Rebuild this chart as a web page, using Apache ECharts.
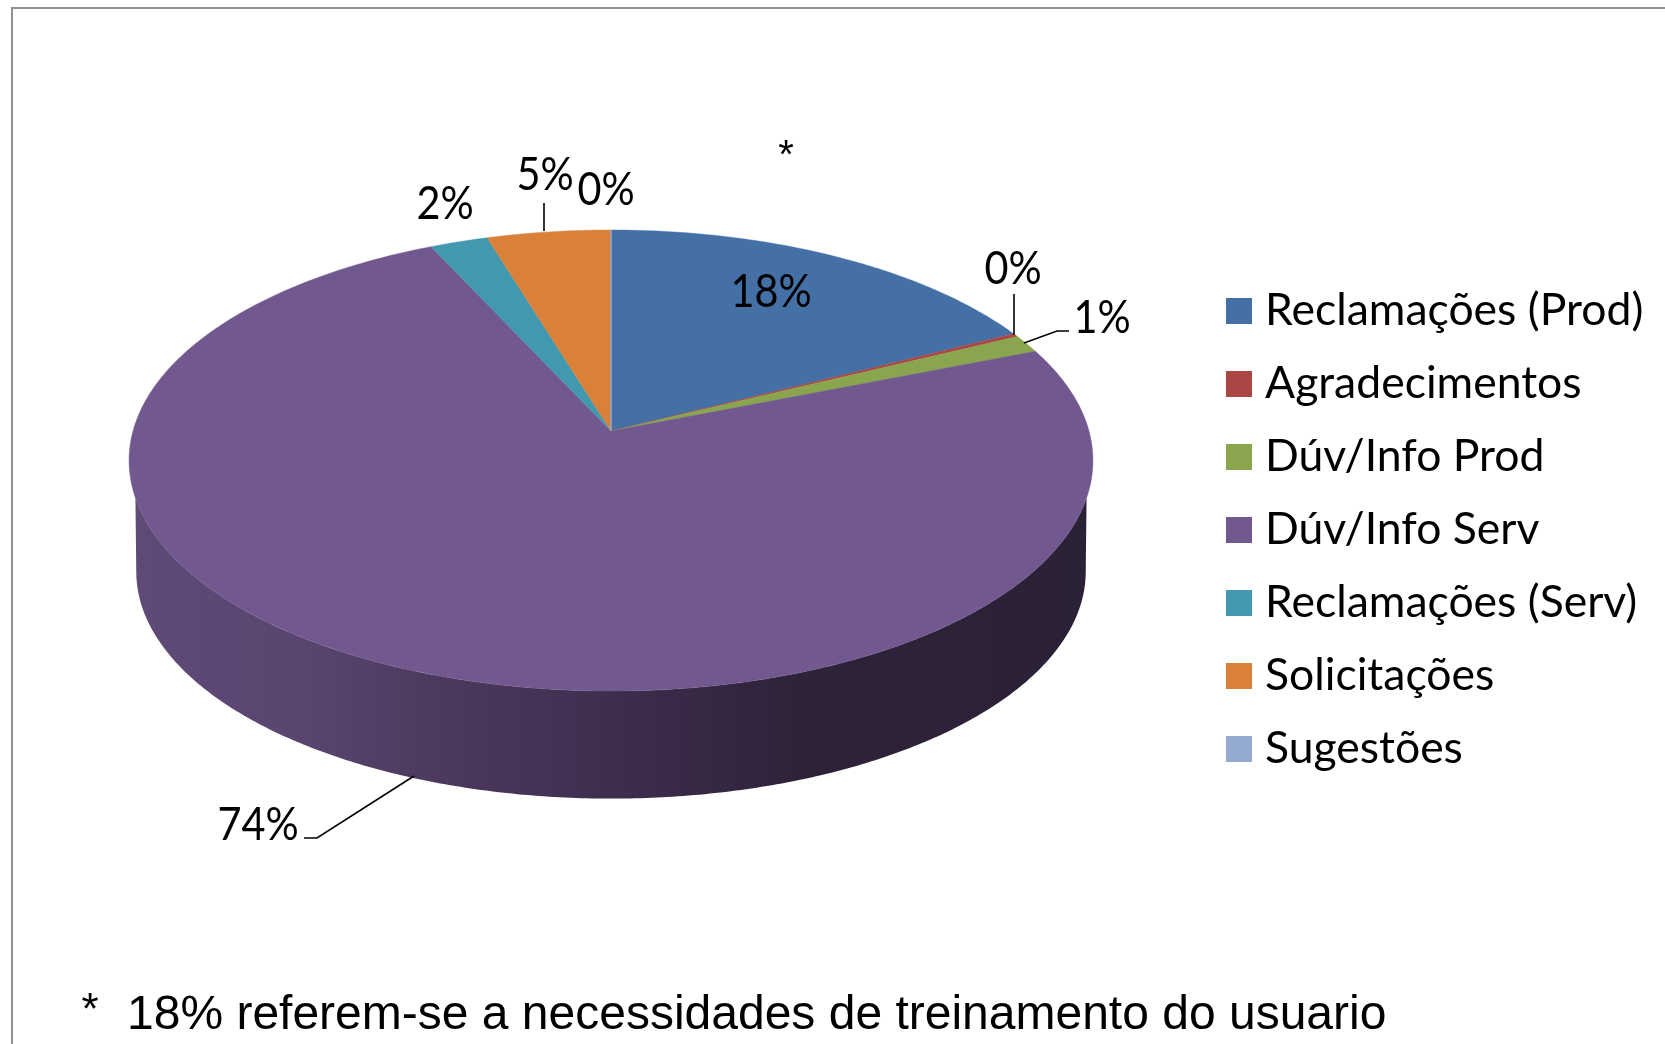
<!DOCTYPE html>
<html>
<head>
<meta charset="utf-8">
<style>html,body{margin:0;padding:0;background:#fff}#chart{width:1665px;height:1044px}</style>
<script src="https://cdn.jsdelivr.net/npm/echarts@6/dist/echarts.min.js"></script>
</head>
<body>
<div id="chart"></div>
<script>
var categories = ['Reclamações (Prod)', 'Agradecimentos', 'Dúv/Info Prod', 'Dúv/Info Serv', 'Reclamações (Serv)', 'Solicitações', 'Sugestões'];
var sliceValues = [17.5, 0.25, 1.25, 74.1, 2.2, 4.7, 0];
var sliceLabels = ['18%', '0%', '1%', '74%', '2%', '5%', '0%'];
var sliceColors = ['#4470a6', '#aa4644', '#89a54e', '#71588f', '#4198af', '#d98039', '#93a9cf'];
var footnote = '18% referem-se a necessidades de treinamento do usuario';

// label placement, one per slice: text centre and leader line
var labelPos = [[771, 292], [1013, 269], [1102, 318], [258, 825], [445, 204], [545, 175], [606, 190]];
var leaders = [
    null,
    [[1014, 294], [1014, 335]],
    [[1024, 343], [1057, 331], [1069, 331]],
    [[414, 776], [317, 838], [304, 838]],
    null,
    [[544, 203], [544, 231]],
    null
];

// tilted disc, perspective projection of a circle
var cx = 611, apexY = 431, radius = 478, persp = 0.128, tiltB = -171.6;
var ellipseMidY = 461, wallDrop = 111, wallScale = 0.985;

var total = sliceValues.reduce(function (a, b) { return a + b; }, 0);

function projTop(a) {
    var u = Math.sin(a), v = Math.cos(a), w = 1 + persp * v;
    return [cx + radius * u / w, (apexY + tiltB * v) / w];
}
function projBottom(a) {
    var p = projTop(a);
    return [cx + (p[0] - cx) * wallScale, ellipseMidY + (p[1] - ellipseMidY) * wallScale + wallDrop];
}
function arcPoints(fn, from, to) {
    var pts = [], n = Math.max(2, Math.ceil(Math.abs(to - from) / 0.01));
    for (var i = 0; i <= n; i++) {
        pts.push(fn(from + (to - from) * i / n));
    }
    return pts;
}

var wallGradient = new echarts.graphic.LinearGradient(128, 0, 1092, 0, [
    {offset: 0, color: '#5f4a78'},
    {offset: 0.18, color: '#5a4570'},
    {offset: 0.3, color: '#4f3a60'},
    {offset: 0.5, color: '#3f2d4e'},
    {offset: 0.7, color: '#2e2238'},
    {offset: 1, color: '#2b2137'}
], true);

// limits of the visible side wall, the top edge joins a little below the widest point
var wallFrom = Math.PI - Math.acos(persp), wallTo = Math.PI + Math.acos(persp), wallInset = 0.16;

function makeRender(idx) {
    return function (params, api) {
        var before = 0;
        for (var i = 0; i < idx; i++) before += sliceValues[i];
        var start = before / total * Math.PI * 2;
        var end = (before + api.value(0)) / total * Math.PI * 2;
        var children = [];

        var from = Math.max(start, wallFrom), to = Math.min(end, wallTo);
        if (to > from) {
            var wall = arcPoints(projTop, from + wallInset, to - wallInset).concat(arcPoints(projBottom, to, from));
            children.push({type: 'polygon', shape: {points: wall}, style: {fill: wallGradient}});
        }

        var top = [[cx, apexY]].concat(arcPoints(projTop, start, end));
        children.push({
            type: 'polygon',
            shape: {points: top},
            style: {fill: sliceColors[idx], stroke: sliceColors[idx], lineWidth: end > start ? 0.4 : 1.5}
        });

        if (leaders[idx]) {
            children.push({
                type: 'polyline',
                shape: {points: leaders[idx]},
                style: {stroke: '#000', lineWidth: 1.6, fill: null}
            });
        }
        children.push({
            type: 'text',
            z2: 10,
            x: labelPos[idx][0],
            y: labelPos[idx][1],
            scaleX: 0.9,
            style: {
                text: sliceLabels[idx],
                align: 'center',
                verticalAlign: 'middle',
                fontFamily: 'Lato',
                fontSize: 46,
                fill: '#000'
            }
        });
        return {type: 'group', children: children};
    };
}

var seriesList = categories.map(function (name, i) {
    return {
        name: name,
        type: 'custom',
        coordinateSystem: 'none',
        silent: true,
        itemStyle: {color: sliceColors[i]},
        renderItem: makeRender(i),
        data: [[sliceValues[i]]]
    };
});

var chart = echarts.init(document.getElementById('chart'));
chart.setOption({
    animation: false,
    backgroundColor: '#fff',
    legend: {
        orient: 'vertical',
        left: 1221,
        top: 281,
        padding: 5,
        selectedMode: false,
        icon: 'rect',
        itemWidth: 26,
        itemHeight: 26,
        itemGap: 23,
        textStyle: {fontFamily: 'Lato', fontSize: 44.5, lineHeight: 50, color: '#000', padding: [0, 0, 0, 8]},
        data: categories
    },
    graphic: [
        {type: 'polyline', silent: true, shape: {points: [[12, 1044], [12, 8], [1665, 8]]}, style: {stroke: '#8f8f8f', lineWidth: 2, fill: null}},
        {type: 'text', silent: true, style: {text: '*', x: 786, y: 157, align: 'center', verticalAlign: 'middle', fontFamily: 'Liberation Sans', fontSize: 40, fill: '#000'}},
        {type: 'text', silent: true, style: {text: '*', x: 90, y: 1012, align: 'center', verticalAlign: 'middle', fontFamily: 'Liberation Sans', fontSize: 44, fill: '#000'}},
        {type: 'text', silent: true, style: {text: footnote, x: 127, y: 1016, align: 'left', verticalAlign: 'middle', fontFamily: 'Liberation Sans', fontSize: 48, fill: '#000'}}
    ],
    series: seriesList
});
</script>
</body>
</html>
